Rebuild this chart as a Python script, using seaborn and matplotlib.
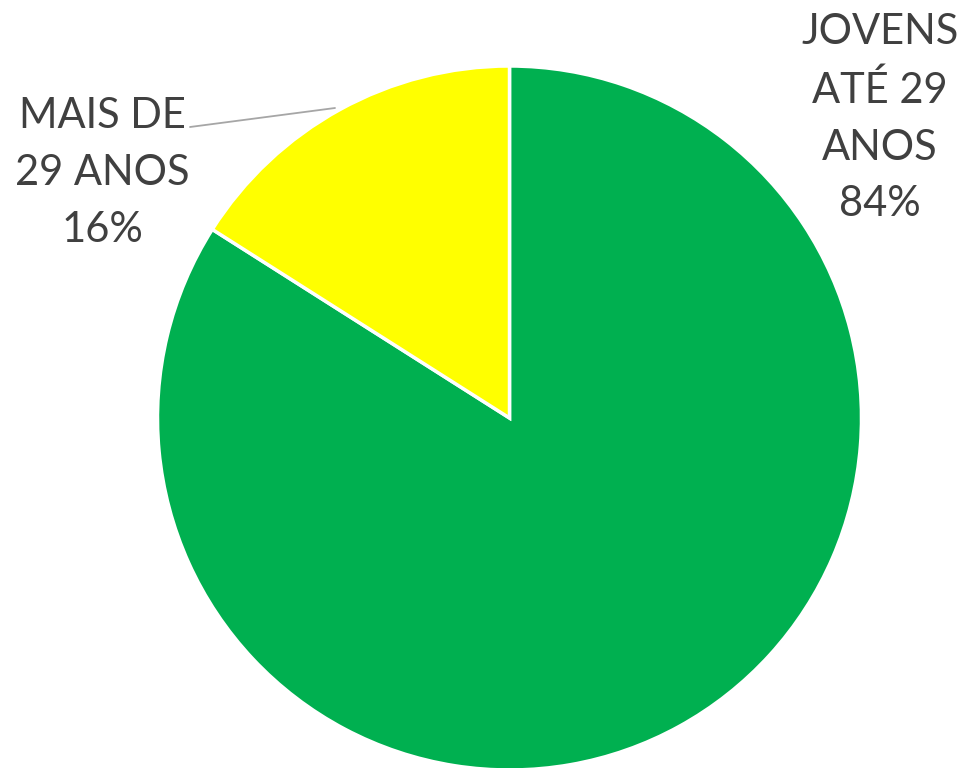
import matplotlib
matplotlib.use("Agg")
import matplotlib.pyplot as plt
import seaborn as sns

sns.set_theme(style="white")
plt.rcParams['font.family'] = ['Lato', 'DejaVu Sans']

categories = ["JOVENS\nATÉ 29\nANOS", "MAIS DE\n29 ANOS"]
values = [84, 16]
colors = ["#00B050", "#FFFF00"]

W, H = 972, 768
fig = plt.figure(figsize=(W / 100, H / 100), dpi=100)
fig.patch.set_facecolor("white")

cx, cy, r = 509.5, 418, 352
ax = fig.add_axes([(cx - r) / W, (H - cy - r) / H, 2 * r / W, 2 * r / H])
ax.pie(values, colors=colors, startangle=90, counterclock=False,
       wedgeprops=dict(edgecolor="white", linewidth=2.5), radius=1)
ax.set_xlim(-1, 1)
ax.set_ylim(-1, 1)
ax.set_aspect("equal")
ax.axis("off")

def px(x, y):
    return x / W, 1 - y / H

labels = [f"{c}\n{v}%" for c, v in zip(categories, values)]
tc = "#404040"
fig.text(*px(880, 118), labels[0], ha="center", va="center", fontsize=30,
         color=tc, linespacing=1.6)
fig.text(*px(102, 173), labels[1], ha="center", va="center", fontsize=30,
         color=tc, linespacing=1.6)

x0, y0 = px(190, 127)
x1, y1 = px(335, 108)
fig.add_artist(plt.Line2D([x0, x1], [y0, y1], transform=fig.transFigure,
                          color="#A6A6A6", linewidth=1.3))

fig.savefig("out.png", dpi=100, facecolor="white")
